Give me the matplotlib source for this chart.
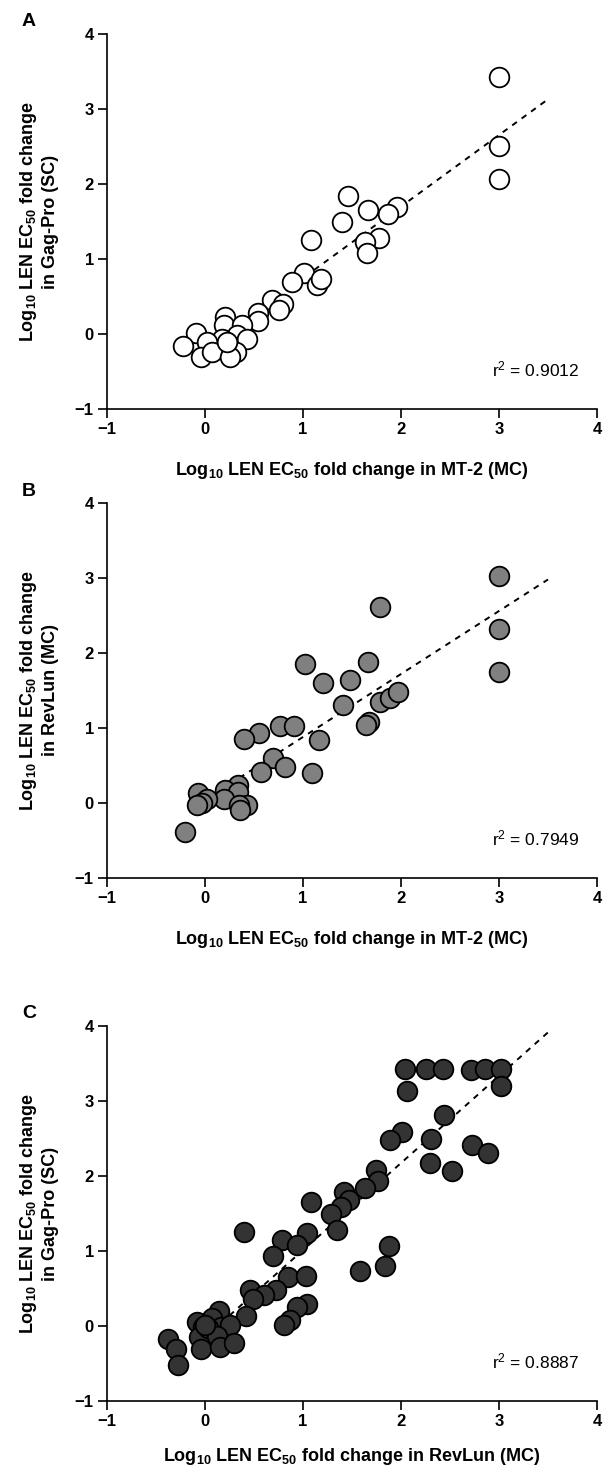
import matplotlib
matplotlib.use("Agg")
import matplotlib.pyplot as plt
import numpy as np

plt.rcParams['font.family'] = ['Liberation Sans', 'DejaVu Sans']
plt.rcParams['mathtext.fontset'] = 'custom'
plt.rcParams['mathtext.rm'] = 'Liberation Sans'
plt.rcParams['mathtext.bf'] = 'Liberation Sans:bold'
plt.rcParams['mathtext.default'] = 'rm'
plt.rcParams['axes.unicode_minus'] = True

# ---------------- Data ----------------
# Panel A: MT-2 (MC) vs Gag-Pro (SC)
a_x = [1.46, 1.66, 1.40, 1.96, 1.87, 1.08, 1.78, 1.63, 1.65, 1.01, 0.89, 1.14, 1.18,
       0.68, 0.80, 0.75, 0.54, 0.54, 0.20, 0.19, 0.38, 0.33, 0.43, 0.17, -0.09, 0.02,
       -0.22, -0.04, 0.07, 0.32, 0.26, 0.22, 3.00, 3.00, 3.00]
a_y = [1.84, 1.66, 1.50, 1.69, 1.60, 1.25, 1.28, 1.23, 1.08, 0.81, 0.69, 0.65, 0.73,
       0.46, 0.40, 0.32, 0.28, 0.17, 0.23, 0.12, 0.12, -0.01, -0.06, -0.06, 0.01, -0.10,
       -0.16, -0.30, -0.24, -0.24, -0.31, -0.10, 3.43, 2.51, 2.07]
a_fit_x = [0.25, 3.50]
a_fit_y = [0.03, 3.13]
a_r2 = "0.9012"

# Panel B: MT-2 (MC) vs RevLun (MC)
b_x = [1.79, 1.02, 1.66, 1.20, 1.48, 1.41, 1.79, 1.89, 1.97, 1.67, 1.64, 1.16, 1.09,
       0.77, 0.91, 0.55, 0.40, 0.69, 0.82, 0.57, 0.34, 0.20, -0.07, 0.34, 0.19, 0.02,
       -0.03, -0.08, 0.43, 0.35, 0.36, -0.20, 3.00, 3.00, 3.00]
b_y = [2.62, 1.85, 1.88, 1.60, 1.64, 1.31, 1.35, 1.40, 1.48, 1.08, 1.04, 0.84, 0.40,
       1.03, 1.03, 0.93, 0.85, 0.60, 0.48, 0.42, 0.24, 0.18, 0.14, 0.15, 0.06, 0.05,
       0.00, -0.03, -0.03, -0.03, -0.09, -0.38, 3.03, 2.32, 1.75]
b_fit_x = [0.25, 3.50]
b_fit_y = [0.25, 2.98]
b_r2 = "0.7949"

# Panel C: RevLun (MC) vs Gag-Pro (SC)
c_x = [2.04, 2.26, 2.43, 2.71, 2.86, 3.02, 2.06, 3.02, 2.44, 2.01, 1.89, 2.31, 2.72,
       2.89, 2.30, 2.52, 1.74, 1.77, 1.63, 1.42, 1.47, 1.39, 1.29, 1.08, 1.35, 0.40,
       1.04, 0.79, 0.94, 0.69, 1.88, 1.84, 1.58, 0.85, 1.03, 0.72, 0.46, 0.60, 0.49,
       1.04, 0.94, 0.42, 0.87, 0.81, 0.14, 0.07, -0.08, -0.02, 0.16, 0.26, -0.38,
       -0.30, -0.28, -0.06, -0.04, 0.03, 0.12, 0.15, 0.30, 0.00]
c_y = [3.43, 3.43, 3.43, 3.42, 3.43, 3.43, 3.13, 3.20, 2.82, 2.59, 2.48, 2.50, 2.42,
       2.31, 2.18, 2.07, 2.08, 1.93, 1.84, 1.79, 1.68, 1.59, 1.50, 1.66, 1.28, 1.25,
       1.24, 1.15, 1.08, 0.93, 1.07, 0.80, 0.73, 0.65, 0.67, 0.48, 0.48, 0.41, 0.36,
       0.29, 0.25, 0.13, 0.08, 0.01, 0.20, 0.11, 0.06, -0.01, -0.01, 0.02, -0.17,
       -0.30, -0.52, -0.15, -0.30, -0.02, -0.13, -0.28, -0.22, 0.02]
c_fit_x = [0.25, 3.53]
c_fit_y = [0.14, 3.95]
c_r2 = "0.8887"

ticks = [-1, 0, 1, 2, 3, 4]

xlab_mt2 = r"Log$_{\mathbf{10}}$ LEN EC$_{\mathbf{50}}$ fold change in MT-2 (MC)"
xlab_rev = r"Log$_{\mathbf{10}}$ LEN EC$_{\mathbf{50}}$ fold change in RevLun (MC)"
ylab_gag = "Log$_{\\mathbf{10}}$ LEN EC$_{\\mathbf{50}}$ fold change\nin Gag-Pro (SC)"
ylab_rev = "Log$_{\\mathbf{10}}$ LEN EC$_{\\mathbf{50}}$ fold change\nin RevLun (MC)"

panels = [
    dict(letter="A", x=a_x, y=a_y, fx=a_fit_x, fy=a_fit_y, r2=a_r2, fc="white",
         xl=xlab_mt2, yl=ylab_gag, top=34, xly=-0.165),
    dict(letter="B", x=b_x, y=b_y, fx=b_fit_x, fy=b_fit_y, r2=b_r2, fc="#808080",
         xl=xlab_mt2, yl=ylab_rev, top=503, xly=-0.165),
    dict(letter="C", x=c_x, y=c_y, fx=c_fit_x, fy=c_fit_y, r2=c_r2, fc="#333333",
         xl=xlab_rev, yl=ylab_gag, top=1026, xly=-0.148),
]

W, H = 604, 1473
fig = plt.figure(figsize=(W / 100, H / 100), dpi=100)

left_px, right_px = 107, 597
for p in panels:
    top = p["top"]
    bottom = top + 375
    ax = fig.add_axes([left_px / W, (H - bottom) / H, (right_px - left_px) / W, 375 / H])
    ax.plot(p["fx"], p["fy"], ls=(0, (3, 3)), color="black", lw=1.4, zorder=2)
    ax.scatter(p["x"], p["y"], s=200, facecolor=p["fc"], edgecolor="black",
               linewidths=1.3, zorder=3, clip_on=False)
    ax.set_xlim(-1, 4)
    ax.set_ylim(-1, 4)
    ax.set_xticks(ticks)
    ax.set_yticks(ticks)
    ax.spines["top"].set_visible(False)
    ax.spines["right"].set_visible(False)
    for s in ("left", "bottom"):
        ax.spines[s].set_linewidth(1.2)
    ax.tick_params(axis="both", direction="out", length=6.5, width=1.2, pad=3,
                   labelsize=12)
    for lab in ax.get_xticklabels() + ax.get_yticklabels():
        lab.set_fontweight("bold")
    ax.text(0.5, p["xly"], p["xl"], transform=ax.transAxes, ha="center", va="center",
            fontsize=13, fontweight="bold")
    ax.text(-0.14, 0.5, p["yl"], transform=ax.transAxes, ha="center", va="center",
            rotation=90, fontsize=13, fontweight="bold", linespacing=1.2)
    ax.text(3.82, -0.47, "r$^{2}$ = " + p["r2"], ha="right", va="center",
            fontsize=12.5)
    ax.text(22 / W, (H - (top - 12)) / H, p["letter"], transform=fig.transFigure,
            ha="left", va="center", fontsize=14, fontweight="bold")

fig.savefig("out.png", dpi=100)
